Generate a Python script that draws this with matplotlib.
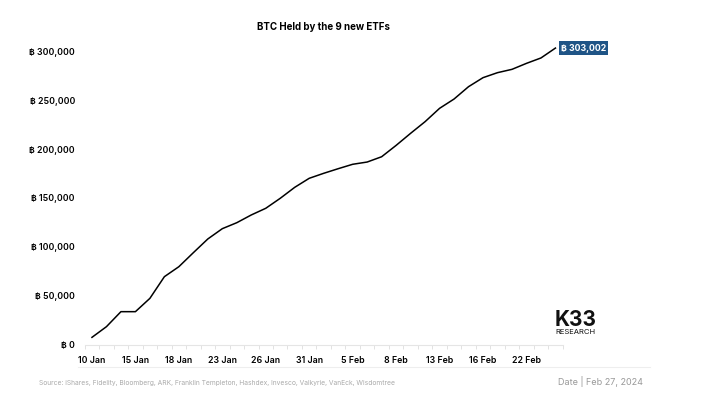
import matplotlib
matplotlib.use("Agg")
import matplotlib.pyplot as plt
from matplotlib.ticker import FuncFormatter, FixedLocator

values = [7800, 18700, 34000, 34000, 47600, 69700, 79900, 94200, 108200, 118700,
          124800, 132700, 139500, 149700, 160900, 170100, 175200, 179900, 184400, 186700,
          192100, 203700, 216000, 227900, 241500, 251000, 263600, 272800, 277900, 281300,
          287400, 292900, 303002]
tick_labels = ["10 Jan", "15 Jan", "18 Jan", "23 Jan", "26 Jan", "31 Jan", "5 Feb",
               "8 Feb", "13 Feb", "16 Feb", "22 Feb"]
yticks = [0, 50000, 100000, 150000, 200000, 250000, 300000]

plt.rcParams['font.family'] = ['Inter', 'DejaVu Sans']
fig = plt.figure(figsize=(7.06, 4.15), dpi=100)
ax = fig.add_axes([0.12, 0.1687, 0.677, 0.732])
x = list(range(len(values)))
ax.plot(x, values, color='black', lw=1.1)
ax.set_xlim(-0.5, len(values) - 0.5)
ax.set_ylim(0, 310000)
ax.set_yticks(yticks)
ax.yaxis.set_major_formatter(FuncFormatter(lambda v, p: f"\u0E3F {int(v):,}" if v else "\u0E3F 0"))
ax.set_xticks(x[::3])
ax.set_xticklabels(tick_labels)
ax.xaxis.set_minor_locator(FixedLocator([i - 0.5 for i in range(len(values) + 1)]))
ax.tick_params(axis='x', which='major', length=0, labelsize=6.3, pad=8)
ax.tick_params(axis='x', which='minor', length=3, color='#dddddd')
ax.tick_params(axis='y', length=0, labelsize=6.3, pad=7)
for t in ax.get_xticklabels() + ax.get_yticklabels():
    t.set_fontweight('semibold')
for s in ['top', 'right', 'left']:
    ax.spines[s].set_visible(False)
ax.spines['bottom'].set_color('#e5e5e5')
ax.set_title("BTC Held by the 9 new ETFs", fontsize=7, fontweight='bold', pad=8)
ax.annotate(f"\u0E3F {values[-1]:,}", (x[-1], values[-1]), xytext=(4, 0), textcoords='offset points',
            va='center', ha='left', fontsize=6.3, color='white', fontweight='bold',
            bbox=dict(boxstyle='square,pad=0.25', fc='#1f5486', ec='none'))
fig.text(0.815, 0.215, "K33", fontsize=15, fontweight='bold', ha='center', color='#111')
fig.text(0.815, 0.195, "RESEARCH", fontsize=5.5, ha='center', color='#111')
fig.add_artist(plt.Line2D([0.11, 0.92], [0.115, 0.115], color='#eeeeee', lw=0.8))
fig.text(0.055, 0.072, "Source: iShares, Fidelity, Bloomberg, ARK, Franklin Templeton, Hashdex, Invesco, Valkyrie, VanEck, Wisdomtree",
         fontsize=4.8, color='#aaaaaa')
fig.text(0.79, 0.072, "Date | Feb 27, 2024", fontsize=6.5, color='#999999')
fig.savefig("out.png", dpi=100, facecolor='white')
